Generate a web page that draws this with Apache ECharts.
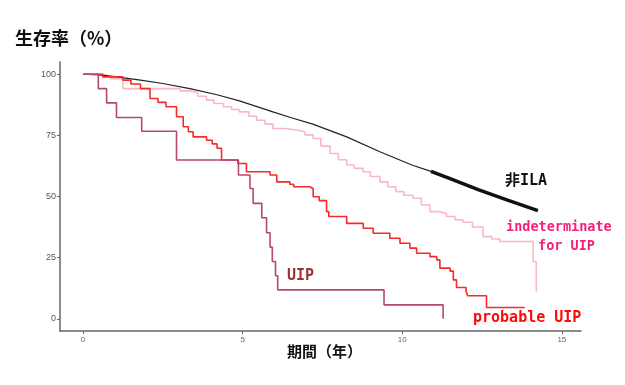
<!DOCTYPE html>
<html>
<head>
<meta charset="utf-8">
<script src="https://cdn.jsdelivr.net/npm/echarts@6/dist/echarts.min.js"></script>
<style>
  html, body { margin: 0; padding: 0; background: #fff; }
  #chart { width: 625px; height: 385px; }
</style>
</head>
<body>
<div id="chart"></div>
<script>
// 非ILA (smooth-ish KM curve)
const nonIlaT = [0, 0.5, 1, 1.8, 2.5, 3.35, 4.2, 4.9, 5.95, 6.5, 7.2, 8.26, 9.3, 10.3, 10.9, 11.5, 12.4, 13.3, 14.25];
const nonIlaS = [100, 99.7, 99, 97.6, 96.2, 94.1, 91.6, 89.1, 84.6, 82.3, 79.6, 74.4, 68.3, 62.9, 60.3, 57.3, 52.7, 48.5, 44.2];
// dense censoring part of 非ILA
const censorStart = 10.9;

// indeterminate for UIP
const indetT = [0, 0.6, 0.85, 1.25, 3.04, 3.35, 3.6, 3.87, 4.1, 4.4, 4.65, 4.9, 5.2, 5.44, 5.7, 5.95, 6.3, 6.7, 6.95, 7.21,
  7.45, 7.74, 8.0, 8.26, 8.5, 8.77, 9.0, 9.3, 9.55, 9.8, 10.05, 10.34, 10.6, 10.87, 11.18, 11.39, 11.65, 11.9, 12.2, 12.53,
  12.8, 13.06, 14.1, 14.2];
const indetS = [100, 99.2, 98.2, 94.1, 93.2, 92.4, 91, 89.4, 88, 86.7, 85.6, 84.6, 82.8, 81.2, 79.6, 77.8, 77.2, 76.5, 75.2, 73.7,
  70.6, 67.6, 65, 62.9, 61.5, 60.1, 58.2, 56, 54, 52, 50.5, 49.3, 46.5, 43.8, 43, 41.8, 40.5, 39.5, 37.5, 33.6,
  32.6, 31.6, 23.4, 11.2];

// probable UIP
const probT = [0, 0.62, 1.25, 1.5, 1.8, 2.1, 2.35, 2.6, 2.93, 3.14, 3.3, 3.45, 3.87, 4.05, 4.2, 4.34, 4.85, 5.12, 5.86, 6.07,
  6.48, 6.6, 7.1, 7.21, 7.4, 7.63, 7.7, 8.26, 8.78, 9.09, 9.61, 9.93, 10.24, 10.45, 10.87, 11.08, 11.18, 11.5, 11.6, 11.7,
  12.0, 12.05, 12.64, 13.84];
const probS = [100, 98.9, 97.6, 96, 94.1, 90.1, 88.5, 86.7, 82.6, 78.5, 76.5, 74.4, 73, 71.5, 69.7, 64.9, 63.5, 60.1, 58.8, 56,
  55, 54, 53.3, 49.9, 48.3, 43.8, 41.8, 39, 37, 35, 32.9, 30.9, 28.9, 26.8, 25.4, 24.1, 20.7, 19.5, 15.9, 12.8,
  11.2, 9.4, 4.6, 4.6];

// UIP
const uipT = [0, 0.48, 0.74, 1.05, 1.84, 2.93, 4.87, 5.23, 5.33, 5.6, 5.75, 5.86, 5.93, 6.03, 6.1, 9.43, 11.28];
const uipS = [100, 94.1, 88.3, 82.3, 76.7, 64.9, 58.8, 53.3, 47.2, 41.3, 35.2, 29.3, 23.4, 17.6, 11.8, 5.7, 0];

const xTicks = [0, 5, 10, 15];
const yTicks = [0, 25, 50, 75, 100];

const pairs = (t, s) => t.map((v, i) => [v, s[i]]);
const censored = pairs(nonIlaT, nonIlaS).filter(p => p[0] >= censorStart);

const chart = echarts.init(document.getElementById('chart'));
chart.setOption({
  animation: false,
  grid: { left: 60, right: 44, top: 62, bottom: 54 },
  xAxis: {
    type: 'value',
    min: -0.72,
    max: 15.6,
    splitLine: { show: false },
    axisLine: { onZero: false, lineStyle: { color: '#666', width: 1.5 } },
    axisTick: { customValues: xTicks, length: 3, lineStyle: { color: '#666' } },
    axisLabel: { customValues: xTicks, fontSize: 8, color: '#666', margin: 5 }
  },
  yAxis: {
    type: 'value',
    min: -5,
    max: 105,
    splitLine: { show: false },
    axisLine: { show: true, onZero: false, lineStyle: { color: '#666', width: 1.5 } },
    axisTick: { show: true, customValues: yTicks, length: 3, lineStyle: { color: '#666' } },
    axisLabel: { customValues: yTicks, fontSize: 9, color: '#555', margin: 4 }
  },
  series: [
    {
      name: 'indeterminate for UIP', type: 'line', step: 'end', symbol: 'none',
      lineStyle: { color: '#f8b9c3', width: 1.6 }, data: pairs(indetT, indetS)
    },
    {
      name: '非ILA', type: 'line', symbol: 'none',
      lineStyle: { color: '#222', width: 1.2 }, data: pairs(nonIlaT, nonIlaS)
    },
    {
      name: '非ILA censored', type: 'line', symbol: 'none',
      lineStyle: { color: '#111', width: 3.5 }, data: censored
    },
    {
      name: 'probable UIP', type: 'line', step: 'end', symbol: 'none',
      lineStyle: { color: '#f52a2a', width: 1.6 }, data: pairs(probT, probS)
    },
    {
      name: 'UIP', type: 'line', step: 'end', symbol: 'none',
      lineStyle: { color: '#b4496c', width: 1.6 }, data: pairs(uipT, uipS)
    }
  ],
  graphic: [
    { type: 'text', left: 15, top: 29, style: { text: '生存率（%）', font: 'bold 18px "Noto Sans CJK JP"', fill: '#111' } },
    { type: 'text', left: 287, top: 344, style: { text: '期間（年）', font: 'bold 15px "Noto Sans CJK JP"', fill: '#111' } },
    { type: 'text', left: 505, top: 174, style: { text: '非ILA', font: 'bold 15px "DejaVu Sans Mono", "Noto Sans CJK JP"', fill: '#111' } },
    { type: 'text', left: 506, top: 220, style: { text: 'indeterminate', font: 'bold 13.5px "DejaVu Sans Mono"', fill: '#f5207b' } },
    { type: 'text', left: 538, top: 239, style: { text: 'for UIP', font: 'bold 13.5px "DejaVu Sans Mono"', fill: '#f5207b' } },
    { type: 'text', left: 287, top: 269, style: { text: 'UIP', font: 'bold 15px "DejaVu Sans Mono"', fill: '#9b3238' } },
    { type: 'text', left: 473, top: 311, style: { text: 'probable UIP', font: 'bold 15px "DejaVu Sans Mono"', fill: '#ff0a0a' } }
  ]
});
</script>
</body>
</html>
